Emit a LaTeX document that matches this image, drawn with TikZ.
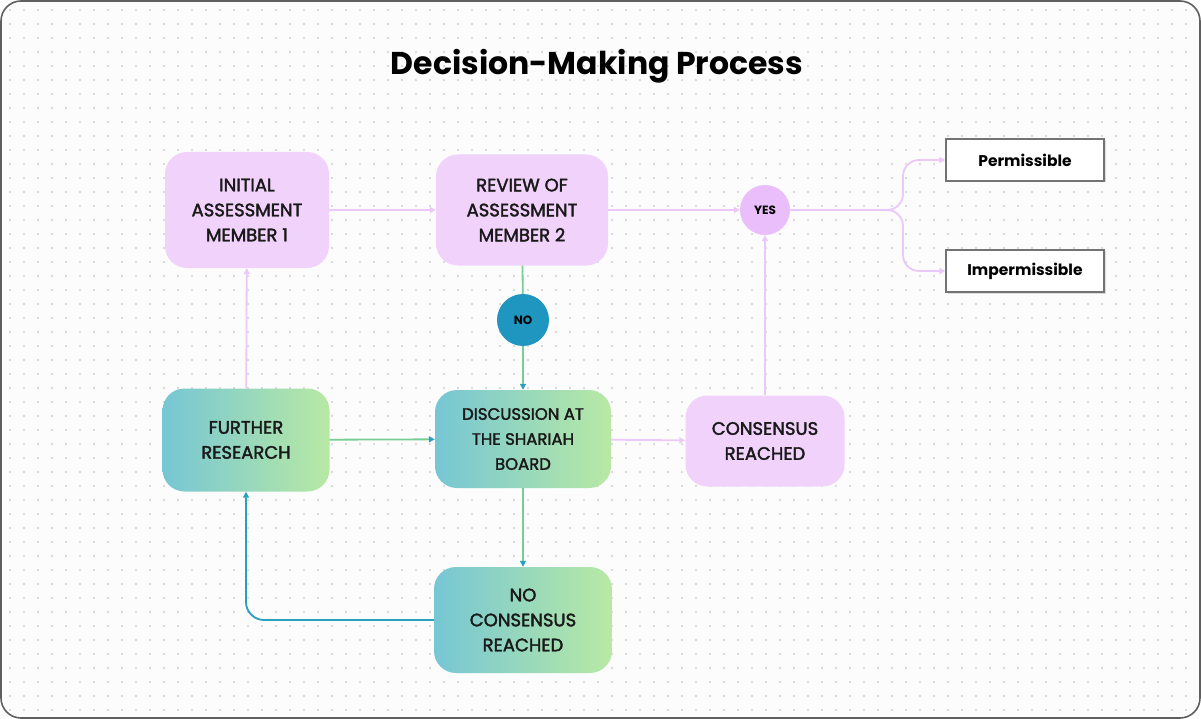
\documentclass[tikz,border=0pt]{standalone}
\usepackage{fontspec}
\setmainfont{Poppins}
\newfontfamily\medfont{Poppins}[FakeBold=2]
\usetikzlibrary{arrows.meta,shadows,calc}
\definecolor{pinkfill}{RGB}{240,210,250}
\definecolor{yesfill}{RGB}{233,190,250}
\definecolor{pinkline}{RGB}{236,200,250}
\definecolor{tealc}{RGB}{118,198,212}
\definecolor{greenc}{RGB}{184,233,164}
\definecolor{nofill}{RGB}{30,150,192}
\definecolor{linegreen}{RGB}{120,205,150}
\definecolor{lineteal}{RGB}{40,160,190}
\definecolor{framec}{RGB}{95,95,95}
\definecolor{dotc}{RGB}{208,208,208}
\tikzset{
  pinkbox/.style={rounded corners=22pt, fill=pinkfill, draw=none, inner sep=0pt, align=center,
    font=\medfont\fontsize{18}{25}\selectfont, text=black!90},
  gradbox/.style={rounded corners=22pt, left color=tealc, right color=greenc, draw=none, inner sep=0pt,
    align=center, font=\medfont\fontsize{18}{25}\selectfont, text=black!90},
  outbox/.style={draw=black!55, line width=1.2pt, fill=white, minimum width=158pt, minimum height=42pt,
    inner sep=0pt, font=\fontsize{15.5}{18}\selectfont\bfseries,
    drop shadow={opacity=0.25, shadow xshift=1.5pt, shadow yshift=-1.5pt}},
  pinkarrow/.style={draw=pinkline, line width=1.8pt, -{Triangle[length=6pt,width=6pt]}},
  greenarrow/.style={draw=linegreen, line width=1.8pt, -{Triangle[length=6pt,width=6pt,color=lineteal]}},
  tealarrow/.style={draw=lineteal, line width=1.8pt, -{Triangle[length=6pt,width=6pt]}},
}
\begin{document}
\begin{tikzpicture}[x=1pt,y=-1pt]
\useasboundingbox (0,0) rectangle (1201,719);
\fill[white!99!black] (1,1) [rounded corners=20pt] rectangle (1200,718);
\foreach \x in {10,24,...,1196} {
  \foreach \y in {10,24,...,714} {
    \fill[dotc] (\x,\y) circle (1.1pt);
  }
}
\draw[framec, line width=1.6pt, rounded corners=20pt] (1,1) rectangle (1200,718);

\node[font=\fontsize{31.5}{36}\selectfont\bfseries] (title) at (597,66) {Decision-Making Process};

\node[pinkbox, minimum width=164pt, minimum height=116pt] (init) at (247,210) {INITIAL\\ASSESSMENT\\MEMBER 1};
\node[pinkbox, minimum width=172pt, minimum height=111pt] (review) at (522,210) {REVIEW OF\\ASSESSMENT\\MEMBER 2};
\node[circle, fill=yesfill, minimum size=50pt, inner sep=0pt, font=\fontsize{12}{14}\selectfont\bfseries] (yes) at (765,210) {YES};
\node[outbox] (perm) at (1025,160) {Permissible};
\node[outbox] (imperm) at (1025,271) {Impermissible};
\node[circle, fill=nofill, minimum size=52pt, inner sep=0pt, font=\fontsize{12}{14}\selectfont\bfseries] (no) at (523,320) {NO};
\node[gradbox, minimum width=167pt, minimum height=103pt] (further) at (246,440) {FURTHER\\RESEARCH};
\node[gradbox, minimum width=176pt, minimum height=98pt, font=\medfont\fontsize{16.5}{25}\selectfont] (disc) at (523,439) {DISCUSSION AT\\THE SHARIAH\\BOARD};
\node[pinkbox, minimum width=159pt, minimum height=91pt] (cons) at (765,441) {CONSENSUS\\REACHED};
\node[gradbox, minimum width=178pt, minimum height=106pt] (nocons) at (523,620) {NO\\CONSENSUS\\REACHED};

\draw[pinkarrow] (init) -- (review);
\draw[pinkarrow] (review) -- (yes);
\coordinate (split) at (903,210);
\draw[pinkarrow, rounded corners=16pt] (yes.east) -| (split |- perm.west) -- (perm.west);
\draw[pinkarrow, rounded corners=16pt] (yes.east) -| (split |- imperm.west) -- (imperm.west);
\draw[draw=linegreen, line width=1.8pt] (review) -- (no);
\draw[greenarrow] (no) -- (disc);
\draw[greenarrow] (further) -- (disc);
\draw[pinkarrow] (disc) -- (cons);
\draw[pinkarrow] (cons) -- (yes);
\draw[pinkarrow] (further) -- (init);
\draw[greenarrow] (disc) -- (nocons);
\draw[tealarrow, rounded corners=18pt] (nocons.west) -| (further.south);
\end{tikzpicture}
\end{document}
